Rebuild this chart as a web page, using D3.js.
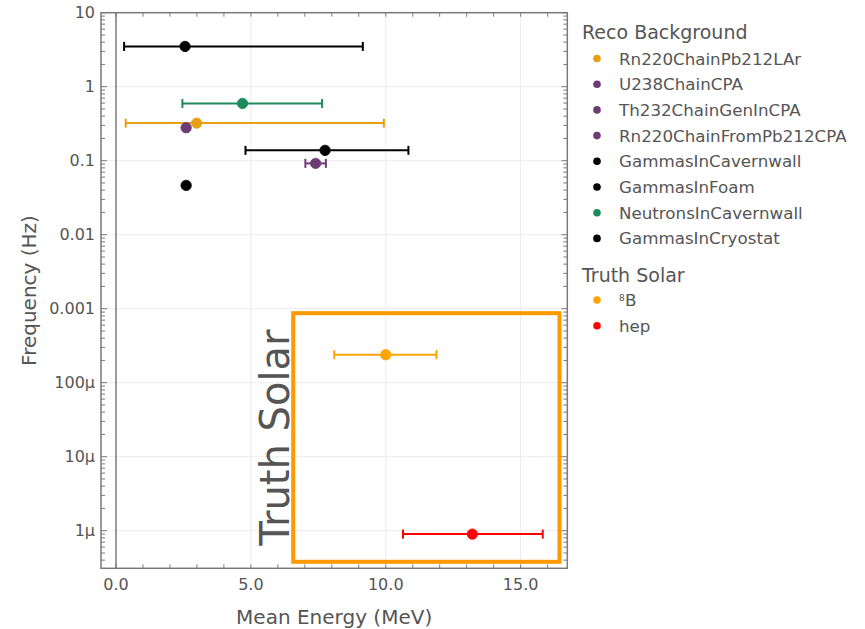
<!DOCTYPE html>
<html>
<head>
<meta charset="utf-8">
<script src="https://cdn.jsdelivr.net/npm/d3@7"></script>
<style>
  html, body { margin: 0; padding: 0; background: #fff; }
  svg { display: block; font-family: "DejaVu Sans", sans-serif; }
</style>
</head>
<body>
<svg id="chart" width="865" height="629"></svg>
<script>
// Reconstructed background sources: mean energy (MeV), rate (Hz), energy spread
const recoNames  = ["Rn220ChainPb212LAr", "U238ChainCPA", "Th232ChainGenInCPA", "Rn220ChainFromPb212CPA",
                    "GammasInCavernwall", "GammasInFoam", "NeutronsInCavernwall", "GammasInCryostat"];
const recoColors = ["#e6a014", "#6b3d73", "#6b3d73", "#6b3d73", "#000000", "#000000", "#1e8a5c", "#000000"];
const recoEnergy = [2.99, 2.60, null, 7.40, 2.56, 7.75, 4.69, 2.60];
const recoFreq   = [0.322, 0.279, null, 0.092, 3.5, 0.138, 0.594, 0.0464];
const recoELow   = [0.36, null, null, 7.02, 0.30, 4.80, 2.46, null];
const recoEHigh  = [9.93, null, null, 7.78, 9.15, 10.84, 7.64, null];

// True solar neutrino signals (label: superscript mass number + element)
const solarSup    = ["8", null];
const solarNames  = ["B", "hep"];
const solarColors = ["#ffa500", "#ff0000"];
const solarEnergy = [10.0, 13.21];
const solarFreq   = [2.39e-4, 9.0e-7];
const solarELow   = [8.09, 10.64];
const solarEHigh  = [11.88, 15.82];

// Highlight region for the solar signals (MeV, Hz)
const boxEnergy = [6.57, 16.44];
const boxFreq   = [3.8e-7, 8.7e-4];

const xMajorTicks = [0, 5, 10, 15];
const xTickLabels = ["0.0", "5.0", "10.0", "15.0"];
const yMajorTicks = [10, 1, 0.1, 0.01, 0.001, 1e-4, 1e-5, 1e-6];
const yTickLabels = ["10", "1", "0.1", "0.01", "0.001", "100\u00b5", "10\u00b5", "1\u00b5"];

const svg = d3.select("#chart");
const plot = { left: 101, right: 567.3, top: 12.7, bottom: 568.3 };

const x = d3.scaleLinear().domain([-0.556, 16.73]).range([plot.left, plot.right]);
const y = d3.scaleLog().domain([Math.pow(10, -6.508), 10]).range([plot.bottom, plot.top]);

const textColor = "#555";
const frameColor = "#7a7a7a";

// grid
const grid = svg.append("g");
grid.selectAll("line.gx").data(xMajorTicks.filter(d => d !== 0)).join("line")
  .attr("x1", d => x(d)).attr("x2", d => x(d))
  .attr("y1", plot.top).attr("y2", plot.bottom)
  .attr("stroke", "#ececec").attr("stroke-width", 1);
grid.selectAll("line.gy").data(yMajorTicks).join("line")
  .attr("x1", plot.left).attr("x2", plot.right)
  .attr("y1", d => y(d)).attr("y2", d => y(d))
  .attr("stroke", "#ececec").attr("stroke-width", 1);

// zero line
svg.append("line")
  .attr("x1", x(0)).attr("x2", x(0)).attr("y1", plot.top).attr("y2", plot.bottom)
  .attr("stroke", frameColor).attr("stroke-width", 1.5);

// ticks (inward, mirrored on both sides of the frame)
const xMinor = d3.range(0, 17, 1);
const ticks = svg.append("g").attr("stroke", frameColor).attr("stroke-width", 1);
ticks.selectAll("line.xb").data(xMinor).join("line")
  .attr("x1", d => x(d)).attr("x2", d => x(d))
  .attr("y1", plot.bottom).attr("y2", plot.bottom - 4);
ticks.selectAll("line.xt").data(xMinor).join("line")
  .attr("x1", d => x(d)).attr("x2", d => x(d))
  .attr("y1", plot.top).attr("y2", plot.top + 4);

const yMinor = [];
for (let e = -7; e <= 0; e++) {
  for (let m = 2; m <= 9; m++) {
    const v = m * Math.pow(10, e);
    if (v >= y.domain()[0] && v <= 10) yMinor.push(v);
  }
}
ticks.selectAll("line.yl").data(yMinor).join("line")
  .attr("x1", plot.left).attr("x2", plot.left + 4)
  .attr("y1", d => y(d)).attr("y2", d => y(d));
ticks.selectAll("line.yr").data(yMinor).join("line")
  .attr("x1", plot.right).attr("x2", plot.right - 4)
  .attr("y1", d => y(d)).attr("y2", d => y(d));
ticks.selectAll("line.ylM").data(yMajorTicks).join("line")
  .attr("x1", plot.left).attr("x2", plot.left + 6)
  .attr("y1", d => y(d)).attr("y2", d => y(d));
ticks.selectAll("line.yrM").data(yMajorTicks).join("line")
  .attr("x1", plot.right).attr("x2", plot.right - 6)
  .attr("y1", d => y(d)).attr("y2", d => y(d));

// frame
svg.append("rect")
  .attr("x", plot.left).attr("y", plot.top)
  .attr("width", plot.right - plot.left).attr("height", plot.bottom - plot.top)
  .attr("fill", "none").attr("stroke", frameColor).attr("stroke-width", 1.5);

// tick labels
svg.selectAll("text.xtl").data(xMajorTicks).join("text")
  .attr("x", d => x(d)).attr("y", 590)
  .attr("text-anchor", "middle").attr("font-size", 16).attr("fill", textColor)
  .text((d, i) => xTickLabels[i]);
svg.selectAll("text.ytl").data(yMajorTicks).join("text")
  .attr("x", 95).attr("y", d => y(d)).attr("dy", "0.36em")
  .attr("text-anchor", "end").attr("font-size", 16).attr("fill", textColor)
  .text((d, i) => yTickLabels[i]);

// axis titles
svg.append("text")
  .attr("x", (plot.left + plot.right) / 2).attr("y", 624)
  .attr("text-anchor", "middle").attr("font-size", 20).attr("fill", textColor)
  .text("Mean Energy (MeV)");
svg.append("text")
  .attr("transform", `translate(36,${(plot.top + plot.bottom) / 2}) rotate(-90)`)
  .attr("text-anchor", "middle").attr("font-size", 20).attr("fill", textColor)
  .text("Frequency (Hz)");

// solar highlight box
svg.append("rect")
  .attr("x", x(boxEnergy[0])).attr("y", y(boxFreq[1]))
  .attr("width", x(boxEnergy[1]) - x(boxEnergy[0]))
  .attr("height", y(boxFreq[0]) - y(boxFreq[1]))
  .attr("fill", "none").attr("stroke", "#ff9900").attr("stroke-width", 4);
svg.append("text")
  .attr("transform", `translate(288.5,${(y(boxFreq[0]) + y(boxFreq[1])) / 2}) rotate(-90)`)
  .attr("text-anchor", "middle").attr("font-size", 40).attr("fill", textColor)
  .text("Truth Solar");

// series: horizontal error bars with caps, then the marker
function drawSeries(energy, freq, lo, hi, colors) {
  const g = svg.append("g");
  energy.forEach((e, i) => {
    if (e == null || freq[i] == null) return;
    const cy = y(freq[i]);
    if (lo[i] != null && hi[i] != null) {
      g.append("line")
        .attr("x1", x(lo[i])).attr("x2", x(hi[i])).attr("y1", cy).attr("y2", cy)
        .attr("stroke", colors[i]).attr("stroke-width", 2);
      [lo[i], hi[i]].forEach(v => {
        g.append("line")
          .attr("x1", x(v)).attr("x2", x(v)).attr("y1", cy - 4.5).attr("y2", cy + 4.5)
          .attr("stroke", colors[i]).attr("stroke-width", 2);
      });
    }
    g.append("circle")
      .attr("cx", x(e)).attr("cy", cy).attr("r", 5.2)
      .attr("fill", colors[i]).attr("stroke", colors[i]).attr("stroke-width", 0.8);
  });
}
drawSeries(recoEnergy, recoFreq, recoELow, recoEHigh, recoColors);
drawSeries(solarEnergy, solarFreq, solarELow, solarEHigh, solarColors);

// legend
const legend = svg.append("g");
legend.append("text").attr("x", 582).attr("y", 39)
  .attr("font-size", 19).attr("fill", textColor).text("Reco Background");
recoNames.forEach((name, i) => {
  const cy = 58.5 + i * 25.7;
  legend.append("circle").attr("cx", 597).attr("cy", cy).attr("r", 3.8).attr("fill", recoColors[i]);
  legend.append("text").attr("x", 619).attr("y", cy).attr("dy", "0.36em")
    .attr("font-size", 16.7).attr("fill", textColor).text(name);
});
legend.append("text").attr("x", 582).attr("y", 282)
  .attr("font-size", 19).attr("fill", textColor).text("Truth Solar");
solarNames.forEach((name, i) => {
  const cy = 300 + i * 25.7;
  legend.append("circle").attr("cx", 597).attr("cy", cy).attr("r", 3.8).attr("fill", solarColors[i]);
  const base = cy + 6;
  if (solarSup[i]) {
    legend.append("text").attr("x", 619).attr("y", base - 5)
      .attr("font-size", 9).attr("fill", textColor).text(solarSup[i]);
    legend.append("text").attr("x", 625).attr("y", base)
      .attr("font-size", 16.7).attr("fill", textColor).text(name);
  } else {
    legend.append("text").attr("x", 619).attr("y", base)
      .attr("font-size", 16.7).attr("fill", textColor).text(name);
  }
});
</script>
</body>
</html>
